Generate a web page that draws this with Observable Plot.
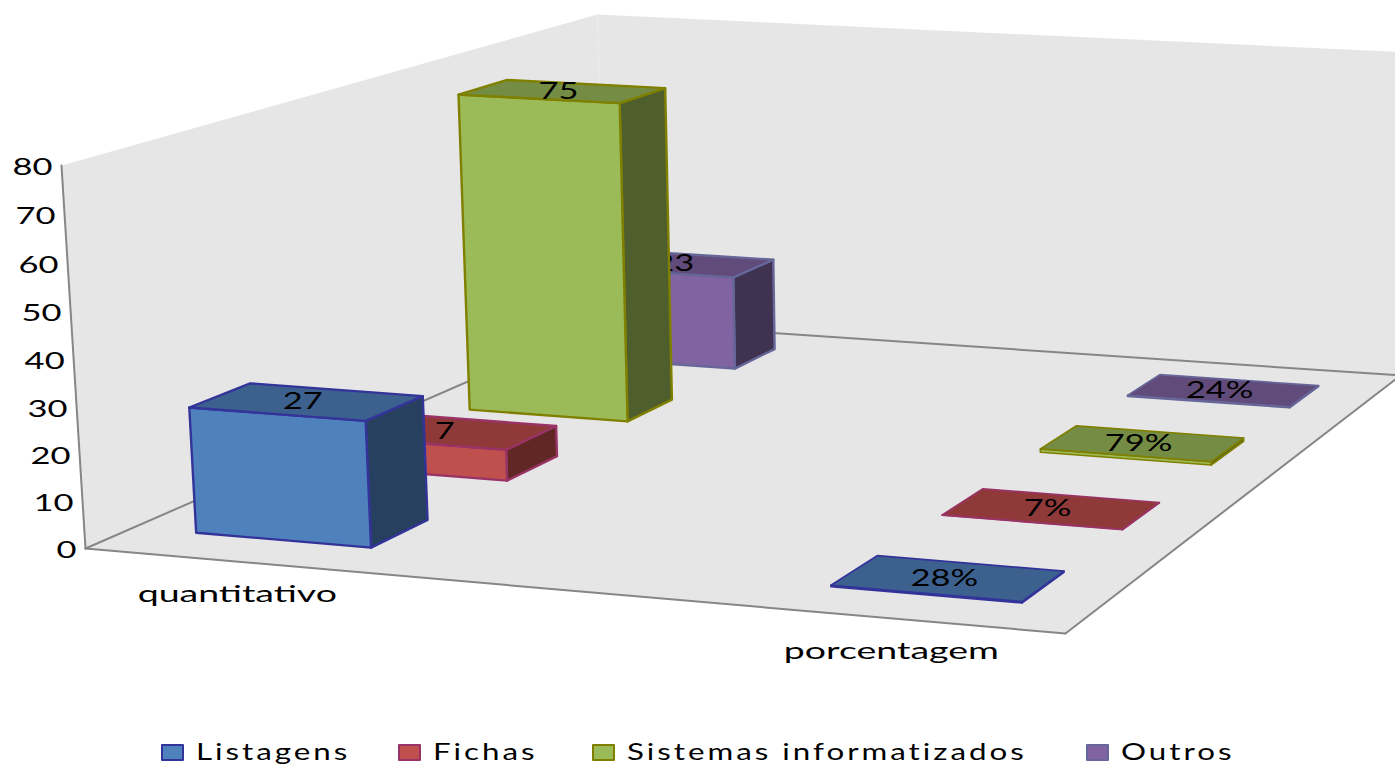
<!DOCTYPE html>
<html lang="pt">
<head>
<meta charset="utf-8">
<title>Listagens, fichas, sistemas informatizados e outros</title>
<script src="https://cdn.jsdelivr.net/npm/d3@7"></script>
<script src="https://cdn.jsdelivr.net/npm/@observablehq/plot@0.6"></script>
<style>
  html, body { margin: 0; padding: 0; background: #fff; overflow: hidden; }
  #chart svg { display: block; }
  #legend { position: relative; width: 1395px; height: 30px; font: 23px Lato, sans-serif; color: #000; }
  #legend .swatch { position: absolute; top: 9px; width: 19px; height: 13px; border: 2px solid; border-radius: 1px; }
  #legend .label { position: absolute; top: 1px; line-height: 30px; white-space: nowrap; letter-spacing: 2.2px; transform-origin: left center; }
</style>
</head>
<body>
<div id="chart"></div>
<div id="legend"></div>
<script>
// Values per category, one array per series
const categories = ["quantitativo", "porcentagem"];
const series = ["Listagens", "Fichas", "Sistemas informatizados", "Outros"];
const listagens = [27, 0.28];
const fichas = [7, 0.07];
const sistemas = [75, 0.79];
const outros = [23, 0.24];
const valueLabels = [
  ["27", "28%"],
  ["7", "7%"],
  ["75", "79%"],
  ["23", "24%"]
];
const valueTicks = [0, 10, 20, 30, 40, 50, 60, 70, 80];

// Face colours per series
const frontColors = ["#4f81bd", "#c0504d", "#9bbb59", "#8064a2"];
const topColors = ["#3c618f", "#8f3a39", "#748c43", "#604b7a"];
const sideColors = ["#27405f", "#602725", "#4e5e2d", "#403251"];
const edgeColors = ["#333399", "#993366", "#808000", "#666699"];
const legendLeft = [161, 398, 592, 1086];
const seriesValues = [listagens, fichas, sistemas, outros];

const width = 1395, height = 735;
const stretch = 1.5, categoryStretch = 1.63, legendStretch = 1.36;

// Unit-cube axes of the box: u along categories, v through series, w up the value axis
const uOf = d3.scalePoint(categories, [0.164, 0.832]);
const vOf = d3.scalePoint(series, [0.125, 0.875]);
const wOf = d3.scaleLinear([0, 80], [0, 1]);
const halfU = 0.095, halfV = 0.05;

// Perspective camera: homogeneous rows for screen x, screen y and the divisor
const camX = [910, 677.5, -25.6, 85];
const camY = [43.4, -143.4, -387.3, 548];
const camD = [-0.0657, 0.2604, -0.026, 1];
const dot3 = (r, u, v, w) => r[0] * u + r[1] * v + r[2] * w + r[3];
const at = (u, v, w) => {
  const d = dot3(camD, u, v, w);
  return {x: dot3(camX, u, v, w) / d, y: dot3(camY, u, v, w) / d};
};
const poly = (...pts) => pts.map(([u, v, w]) => at(u, v, w));

const closed = {x: "x", y: "y", curve: "linear-closed"};
const marks = [];

// Walls and floor
const wallFill = "#e6e6e6";
marks.push(Plot.line(poly([0, 1, 0], [1, 1, 0], [1, 1, 1], [0, 1, 1]), {...closed, fill: wallFill}));
marks.push(Plot.line(poly([0, 0, 0], [0, 1, 0], [0, 1, 1], [0, 0, 1]), {...closed, fill: wallFill}));
marks.push(Plot.line(poly([0, 0, 0], [1, 0, 0], [1, 1, 0], [0, 1, 0]), {...closed, fill: wallFill}));
marks.push(Plot.line(poly([0, 1, 0], [0, 1, 1]), {x: "x", y: "y", stroke: "#ececec", strokeWidth: 1}));
for (const edge of [
  [[0, 0, 0], [0, 0, 1]],
  [[0, 0, 0], [1, 0, 0]],
  [[1, 0, 0], [1, 1, 0]],
  [[0, 0, 0], [0, 1, 0]],
  [[0, 1, 0], [1, 1, 0]]
]) {
  marks.push(Plot.line(poly(...edge), {x: "x", y: "y", stroke: "#868686", strokeWidth: 2}));
}

// Value axis labels
const textStyle = {fontFamily: "Lato, sans-serif", fontSize: 23, fill: "#000", lineAnchor: "middle"};
marks.push(Plot.text(valueTicks, {
  ...textStyle,
  x: (d) => at(0, 0, wOf(d)).x,
  y: (d) => at(0, 0, wOf(d)).y,
  text: (d) => String(d),
  textAnchor: "end",
  dx: -9,
  dy: 2
}));

// Category labels under the front edge
marks.push(Plot.text(categories, {
  ...textStyle,
  x: (d) => at(uOf(d), 0, 0).x,
  y: (d) => at(uOf(d), 0, 0).y,
  text: (d) => d,
  dy: 33,
  className: "category-label"
}));

// Bars, painted from the back row forward so nearer bars hide farther ones
for (let s = series.length - 1; s >= 0; s--) {
  const v = vOf(series[s]);
  categories.forEach((cat, c) => {
    const u = uOf(cat);
    const w = wOf(seriesValues[s][c]);
    const [u0, u1] = [u - halfU, u + halfU];
    const [v0, v1] = [v - halfV, v + halfV];
    const edge = {stroke: edgeColors[s], strokeWidth: c === 0 ? 2.4 : 1.7};
    marks.push(Plot.line(poly([u1, v0, 0], [u1, v1, 0], [u1, v1, w], [u1, v0, w]), {...closed, ...edge, fill: sideColors[s]}));
    marks.push(Plot.line(poly([u0, v0, 0], [u1, v0, 0], [u1, v0, w], [u0, v0, w]), {...closed, ...edge, fill: frontColors[s]}));
    marks.push(Plot.line(poly([u0, v0, w], [u1, v0, w], [u1, v1, w], [u0, v1, w]), {...closed, ...edge, fill: topColors[s]}));
    const mid = at(u, v, w);
    marks.push(Plot.text([valueLabels[s][c]], {...textStyle, x: () => mid.x - 4, y: () => mid.y, text: (d) => d}));
  });
}

const chart = Plot.plot({
  width, height,
  margin: 0,
  style: {background: "transparent"},
  x: {domain: [0, width], range: [0, width], axis: null},
  y: {domain: [0, height], range: [0, height], axis: null},
  marks
});
document.getElementById("chart").append(chart);

// The chart's type is set wide: widen each label about its anchor
chart.querySelectorAll("text").forEach((t) => {
  const k = t.closest(".category-label") ? categoryStretch : stretch;
  t.setAttribute("textLength", t.getComputedTextLength() * k);
  t.setAttribute("lengthAdjust", "spacingAndGlyphs");
});

// Legend below the chart
const legend = document.getElementById("legend");
series.forEach((name, s) => {
  const swatch = document.createElement("div");
  swatch.className = "swatch";
  swatch.style.left = legendLeft[s] + "px";
  swatch.style.background = frontColors[s];
  swatch.style.borderColor = edgeColors[s];
  const label = document.createElement("div");
  label.className = "label";
  label.textContent = name;
  label.style.left = legendLeft[s] + 35 + "px";
  label.style.transform = `scaleX(${legendStretch})`;
  legend.append(swatch, label);
});
</script>
</body>
</html>
